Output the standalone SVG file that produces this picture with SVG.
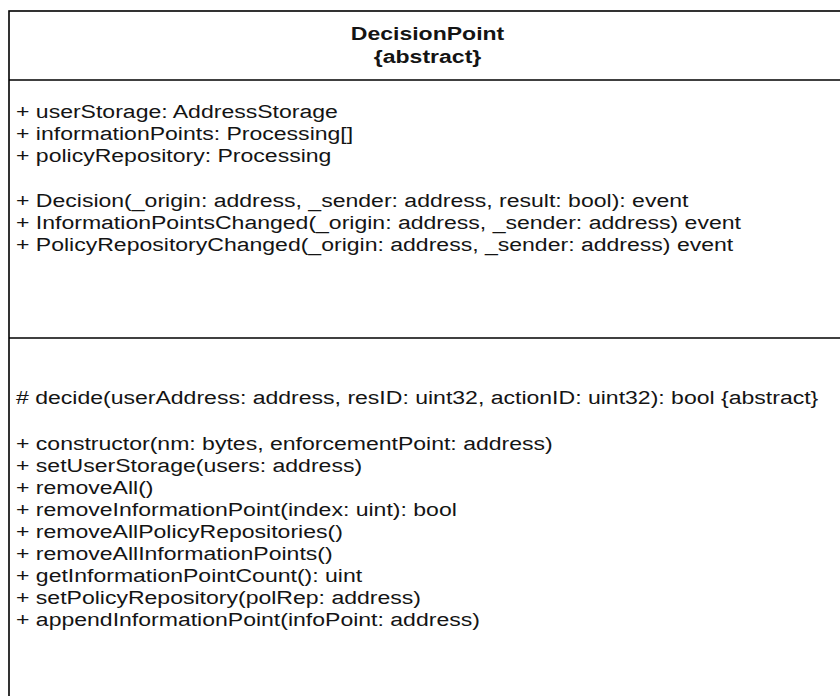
<svg xmlns="http://www.w3.org/2000/svg" width="840" height="696" viewBox="0 0 840 696">
<style>
.t{font-family:"Liberation Sans",Arial,sans-serif;font-size:18px;fill:#141414}
.b{font-weight:bold}
.box{fill:#fff;stroke:#000;stroke-width:1.6}
.div{stroke:#000;stroke-width:1.6}
</style>
<rect width="840" height="696" fill="#fff"/>
<g id="DecisionPoint">
<rect class="box" x="9" y="11" width="842" height="700"/>
<line class="div" x1="9" y1="80" x2="851" y2="80"/>
<line class="div" x1="9" y1="338" x2="851" y2="338"/>
<g transform="scale(1.28 1)">
<text class="t b" x="334" y="40" text-anchor="middle">DecisionPoint</text>
<text class="t b" x="334" y="63" text-anchor="middle">{abstract}</text>
<text class="t" x="12.5" y="118">+ userStorage: AddressStorage</text>
<text class="t" x="12.5" y="140">+ informationPoints: Processing[]</text>
<text class="t" x="12.5" y="162">+ policyRepository: Processing</text>
<text class="t" x="12.5" y="207">+ Decision(_origin: address, _sender: address, result: bool): event</text>
<text class="t" x="12.5" y="229">+ InformationPointsChanged(_origin: address, _sender: address) event</text>
<text class="t" x="12.5" y="251">+ PolicyRepositoryChanged(_origin: address, _sender: address) event</text>
<text class="t" x="12.5" y="404"># decide(userAddress: address, resID: uint32, actionID: uint32): bool {abstract}</text>
<text class="t" x="12.5" y="450">+ constructor(nm: bytes, enforcementPoint: address)</text>
<text class="t" x="12.5" y="472">+ setUserStorage(users: address)</text>
<text class="t" x="12.5" y="494">+ removeAll()</text>
<text class="t" x="12.5" y="516">+ removeInformationPoint(index: uint): bool</text>
<text class="t" x="12.5" y="538">+ removeAllPolicyRepositories()</text>
<text class="t" x="12.5" y="560">+ removeAllInformationPoints()</text>
<text class="t" x="12.5" y="582">+ getInformationPointCount(): uint</text>
<text class="t" x="12.5" y="604">+ setPolicyRepository(polRep: address)</text>
<text class="t" x="12.5" y="626">+ appendInformationPoint(infoPoint: address)</text>
</g>
</g>
<g id="connectors"/>
</svg>
